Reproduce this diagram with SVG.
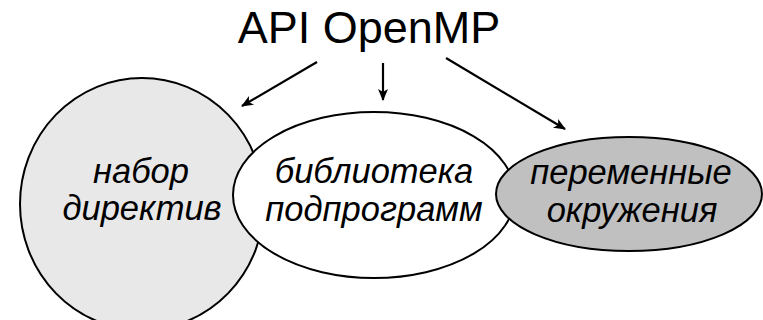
<svg xmlns="http://www.w3.org/2000/svg" width="763" height="320" viewBox="0 0 763 320">
  <defs>
    <marker id="arrow" viewBox="0 0 12 10" refX="11" refY="5" markerWidth="12" markerHeight="10" markerUnits="userSpaceOnUse" orient="auto">
      <path d="M0,0 L12,5 L0,10 L3,5 Z" fill="#000"/>
    </marker>
  </defs>
  <style>
    .title { font-family: "Liberation Sans", Arial, sans-serif; font-size: 45px; fill: #000; }
    .label { font-family: "Liberation Sans", Arial, sans-serif; font-size: 34.5px; font-style: italic; fill: #000; text-anchor: middle; }
    .shape { stroke: #000; stroke-width: 2; }
    .link { stroke: #000; stroke-width: 2.2; fill: none; marker-end: url(#arrow); }
  </style>
  <rect width="763" height="320" fill="#fff"/>

  <g id="title">
    <text class="title" x="369" y="43" text-anchor="middle">API OpenMP</text>
  </g>

  <g id="connectors">
    <line class="link" x1="317" y1="62" x2="242" y2="106"/>
    <line class="link" x1="383" y1="63" x2="383" y2="100"/>
    <line class="link" x1="446" y1="58" x2="565" y2="129"/>
  </g>

  <g id="directives">
    <ellipse class="shape" cx="142" cy="204" rx="122" ry="126" fill="#e8e8e8"/>
    <text class="label" x="141" y="183">набор</text>
    <text class="label" x="142" y="220">директив</text>
  </g>

  <g id="library">
    <ellipse class="shape" cx="374" cy="195" rx="141" ry="83" fill="#fff"/>
    <text class="label" x="374" y="183">библиотека</text>
    <text class="label" x="374" y="221">подпрограмм</text>
  </g>

  <g id="environment">
    <ellipse class="shape" cx="629" cy="194" rx="133" ry="57" fill="#c0c0c0"/>
    <text class="label" x="631" y="184">переменные</text>
    <text class="label" x="632" y="222">окружения</text>
  </g>
</svg>
